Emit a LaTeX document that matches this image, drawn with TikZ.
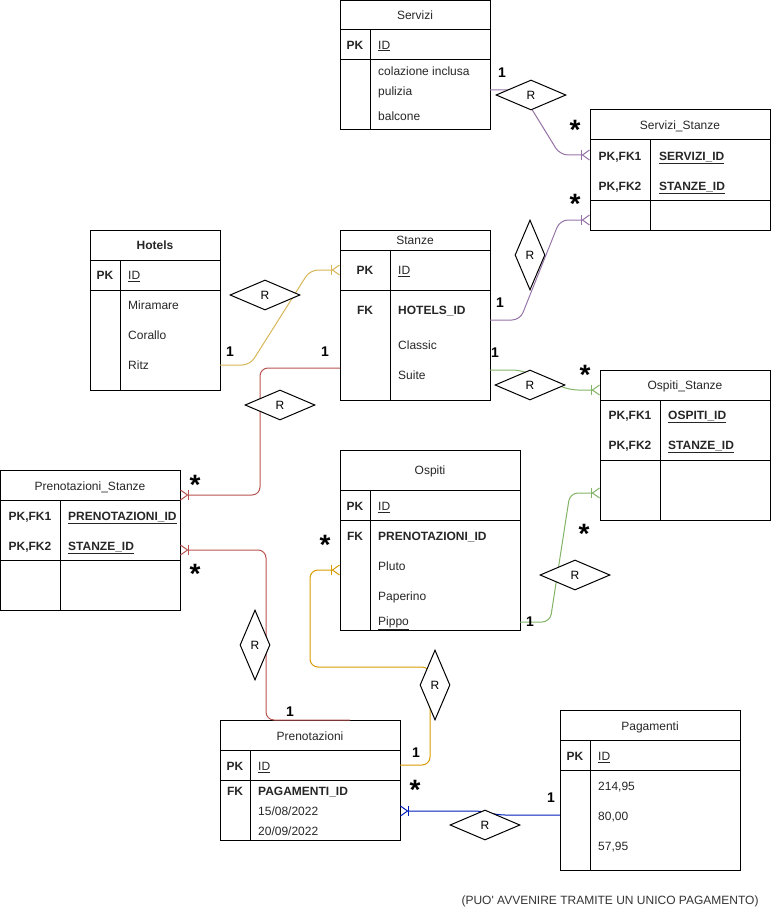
\documentclass[tikz,border=0pt]{standalone}
\usepackage{fontspec}
\setmainfont{Liberation Sans}
\usetikzlibrary{arrows.meta,positioning,shapes.geometric,calc}
\newcommand{\erfont}{\fontsize{12}{14}\selectfont}
\definecolor{erpurple}{HTML}{9673A6}
\definecolor{eryellow}{HTML}{D6B656}
\definecolor{erred}{HTML}{B85450}
\definecolor{erorange}{HTML}{D79B00}
\definecolor{ergreen}{HTML}{82B366}
\definecolor{erblue}{HTML}{001DBC}
\tikzset{
    table line/.style={draw=black,line width=1pt},
    cell/.style={anchor=west,inner sep=0pt,text height=8.6pt,text depth=0pt,text=black!85},
    head/.style={cell,anchor=center},
    key/.style={head,font=\erfont\bfseries},
    field/.style={cell,font=\erfont\bfseries},
    rel/.style={diamond,draw=black,fill=white,line width=1pt,inner sep=0pt,minimum width=70pt,minimum height=30pt},
    vrel/.style={rel,minimum width=30pt,minimum height=70pt},
    link/.style={line width=1pt,rounded corners=8pt},
    many end/.style={-{Bar[width=10pt]Straight Barb[reversed,length=7pt,width=10pt]}},
    one label/.style={inner sep=0pt,font=\fontsize{14}{14}\selectfont\bfseries},
    many label/.style={inner sep=0pt,anchor=base,yshift=-15.5pt,font=\fontsize{28}{28}\selectfont\bfseries},
}
\tikzstyle{every node}=[font=\erfont]

\begin{document}
\begin{tikzpicture}[x=1pt,y=-1pt]
    \useasboundingbox (0,0) rectangle (772,912);
    % Servizi
    \draw[table line] (340.5,0.5) rectangle (490,130) (340,30) -- (490,30) (340,60) -- (490,60) (370,30) -- (370,130);
    \node[head] (servizi) at (415,15) {Servizi};
    \node[key] (servizi pk) at (355,45) {PK};
    \node[cell] (servizi id) at (378,45) {\underline{ID}};
    \node[cell] (servizi a) at (378,71) {colazione inclusa};
    \node[cell] (servizi b) at (378,91) {pulizia};
    \node[cell] (servizi c) at (378,116) {balcone};
    % Servizi_Stanze
    \draw[table line] (590,110) rectangle (770,230) (590,140) -- (770,140) (590,200) -- (770,200) (650,140) -- (650,230);
    \node[head] (servstanze) at (680,125) {Servizi\_Stanze};
    \node[key] (servstanze pk1) at (620,156) {PK,FK1};
    \node[field] (servstanze id1) at (659,156) {\underline{SERVIZI\_ID}};
    \node[key] (servstanze pk2) at (620,186) {PK,FK2};
    \node[field] (servstanze id2) at (659,186) {\underline{STANZE\_ID}};
    % Hotels
    \draw[table line] (90,230) rectangle (220,390) (90,260) -- (220,260) (90,290) -- (220,290) (120,260) -- (120,390);
    \node[head,font=\erfont\bfseries] (hotels) at (155,245) {Hotels};
    \node[key] (hotels pk) at (105,275) {PK};
    \node[cell] (hotels id) at (128,275) {\underline{ID}};
    \node[cell] (hotels a) at (128,305) {Miramare};
    \node[cell] (hotels b) at (128,335) {Corallo};
    \node[cell] (hotels c) at (128,365) {Ritz};
    % Stanze
    \draw[table line] (340,230) rectangle (490,400) (340,250) -- (490,250) (340,290) -- (490,290) (390,250) -- (390,400);
    \node[head] (stanze) at (415,240) {Stanze};
    \node[key] (stanze pk) at (365,270) {PK};
    \node[cell] (stanze id) at (398,270) {\underline{ID}};
    \node[key] (stanze fk) at (365,310) {FK};
    \node[field] (stanze hotel) at (398,310) {HOTELS\_ID};
    \node[cell] (stanze a) at (398,345) {Classic};
    \node[cell] (stanze b) at (398,375) {Suite};
    % Ospiti_Stanze
    \draw[table line] (600,370) rectangle (770,520) (600,400) -- (770,400) (600,460) -- (770,460) (660,400) -- (660,520);
    \node[head] (ospstanze) at (685,385) {Ospiti\_Stanze};
    \node[key] (ospstanze pk1) at (630,415) {PK,FK1};
    \node[field] (ospstanze id1) at (668,415) {\underline{OSPITI\_ID}};
    \node[key] (ospstanze pk2) at (630,445) {PK,FK2};
    \node[field] (ospstanze id2) at (668,445) {\underline{STANZE\_ID}};
    % Prenotazioni_Stanze
    \draw[table line] (0.5,470) rectangle (180,610) (0,500) -- (180,500) (0,560) -- (180,560) (60,500) -- (60,610);
    \node[head] (prenstanze) at (90,486) {Prenotazioni\_Stanze};
    \node[key] (prenstanze pk1) at (30,516) {PK,FK1};
    \node[field] (prenstanze id1) at (68,516) {\underline{PRENOTAZIONI\_ID}};
    \node[key] (prenstanze pk2) at (30,546) {PK,FK2};
    \node[field] (prenstanze id2) at (68,546) {\underline{STANZE\_ID}};
    % Ospiti
    \draw[table line] (340,450) rectangle (520,630) (340,490) -- (520,490) (340,520) -- (520,520) (370,490) -- (370,630);
    \node[head] (ospiti) at (430,470) {Ospiti};
    \node[key] (ospiti pk) at (355,506) {PK};
    \node[cell] (ospiti id) at (378,506) {\underline{ID}};
    \node[key] (ospiti fk) at (355,536) {FK};
    \node[field] (ospiti pren) at (378,536) {PRENOTAZIONI\_ID};
    \node[cell] (ospiti a) at (378,566) {Pluto};
    \node[cell] (ospiti b) at (378,596) {Paperino};
    \node[cell] (ospiti c) at (378,621) {\underline{Pippo}};
    % Prenotazioni
    \draw[table line] (220,720) rectangle (400,840) (220,750) -- (400,750) (220,780) -- (400,780) (250,750) -- (250,840);
    \node[head] (pren) at (310,736) {Prenotazioni};
    \node[key] (pren pk) at (235,766) {PK};
    \node[cell] (pren id) at (258,766) {\underline{ID}};
    \node[key] (pren fk) at (235,791) {FK};
    \node[field] (pren pag) at (258,791) {PAGAMENTI\_ID};
    \node[cell] (pren a) at (258,811) {15/08/2022};
    \node[cell] (pren b) at (258,831) {20/09/2022};
    % Pagamenti
    \draw[table line] (560,710) rectangle (740,870) (560,740) -- (740,740) (560,770) -- (740,770) (590,740) -- (590,870);
    \node[head] (pag) at (650,726) {Pagamenti};
    \node[key] (pag pk) at (575,756) {PK};
    \node[cell] (pag id) at (598,756) {\underline{ID}};
    \node[cell] (pag a) at (598,786) {214,95};
    \node[cell] (pag b) at (598,816) {80,00};
    \node[cell] (pag c) at (598,846) {57,95};

    % connection points
    \coordinate (servizi out) at (490,90);
    \coordinate (servstanze in1) at (590,155);
    \coordinate (servstanze in2) at (590,220);
    \coordinate (stanze out) at (490,320);
    \coordinate (hotels out) at (220,365);
    \coordinate (stanze in) at (340,270);
    \coordinate (stanze left) at (340,368);
    \coordinate (prenstanze in1) at (180,495);
    \coordinate (pren top) at (350,720);
    \coordinate (prenstanze in2) at (180,550);
    \coordinate (pren out) at (400,765);
    \coordinate (ospiti in) at (340,570);
    \coordinate (stanze suite) at (490,370);
    \coordinate (ospstanze in1) at (600,390);
    \coordinate (ospiti out) at (520,622);
    \coordinate (ospstanze in2) at (600,493);
    \coordinate (pag in) at (560,815);
    \coordinate (pren in) at (400,811);

    \draw[link,erpurple,many end] (servizi out) -- ++(30,0) -- ($(servstanze in1)+(-30,0)$) -- (servstanze in1);
    \draw[link,erpurple,many end] (stanze out) -- ++(30,0) -- ($(servstanze in2)+(-30,0)$) -- (servstanze in2);
    \draw[link,eryellow,many end] (hotels out) -- ++(30,0) -- ($(stanze in)+(-30,0)$) -- (stanze in);
    \draw[link,erred,many end] (stanze left) -- (260,368) -- (260,495) -- (prenstanze in1);
    \draw[link,erred,many end] (pren top) -- (266,720) -- (266,550) -- (prenstanze in2);
    \draw[link,erorange,many end] (pren out) -- (430,765) -- (430,667) -- (310,667) -- (310,570) -- (ospiti in);
    \draw[link,ergreen,many end] (stanze suite) -- ++(30,0) -- ($(ospstanze in1)+(-30,0)$) -- (ospstanze in1);
    \draw[link,ergreen,many end] (ospiti out) -- ++(30,0) -- ($(ospstanze in2)+(-30,0)$) -- (ospstanze in2);
    \draw[link,erblue,many end] (pag in) -- (497,815) -- (482,811) -- (pren in);

    % relationships
    \node[rel] (r servizi) at (531,95) {R};
    \node[vrel] (r servstanze) at (530,255) {R};
    \node[rel] (r hotels) at (265,295) {R};
    \node[rel] (r prenstanze) at (280,405) {R};
    \node[rel] (r suite) at (530,385) {R};
    \node[rel] (r ospiti) at (575,575) {R};
    \node[vrel] (r prenotazioni) at (255,645) {R};
    \node[vrel] (r ospiti pren) at (435,685) {R};
    \node[rel] (r pagamenti) at (485,825) {R};

    % cardinalities
    \node[one label] (c1) at (502,73) {1};
    \node[many label] (c2) at (575,124) {*};
    \node[many label] (c3) at (575,198) {*};
    \node[one label] (c4) at (230,352) {1};
    \node[one label] (c5) at (325,352) {1};
    \node[one label] (c6) at (500,303) {1};
    \node[one label] (c7) at (495,353) {1};
    \node[many label] (c8) at (585,369) {*};
    \node[many label] (c9) at (195,479) {*};
    \node[many label] (c10) at (195,568) {*};
    \node[many label] (c11) at (325,539) {*};
    \node[many label] (c12) at (584,528) {*};
    \node[one label] (c13) at (530,622) {1};
    \node[one label] (c14) at (290,712) {1};
    \node[one label] (c15) at (416,753) {1};
    \node[many label] (c16) at (415,784) {*};
    \node[one label] (c17) at (551,798) {1};

    \node[text=black!80] (nota) at (610,901) {(PUO\textquotesingle{} AVVENIRE TRAMITE UN UNICO PAGAMENTO)};
\end{tikzpicture}
\end{document}
